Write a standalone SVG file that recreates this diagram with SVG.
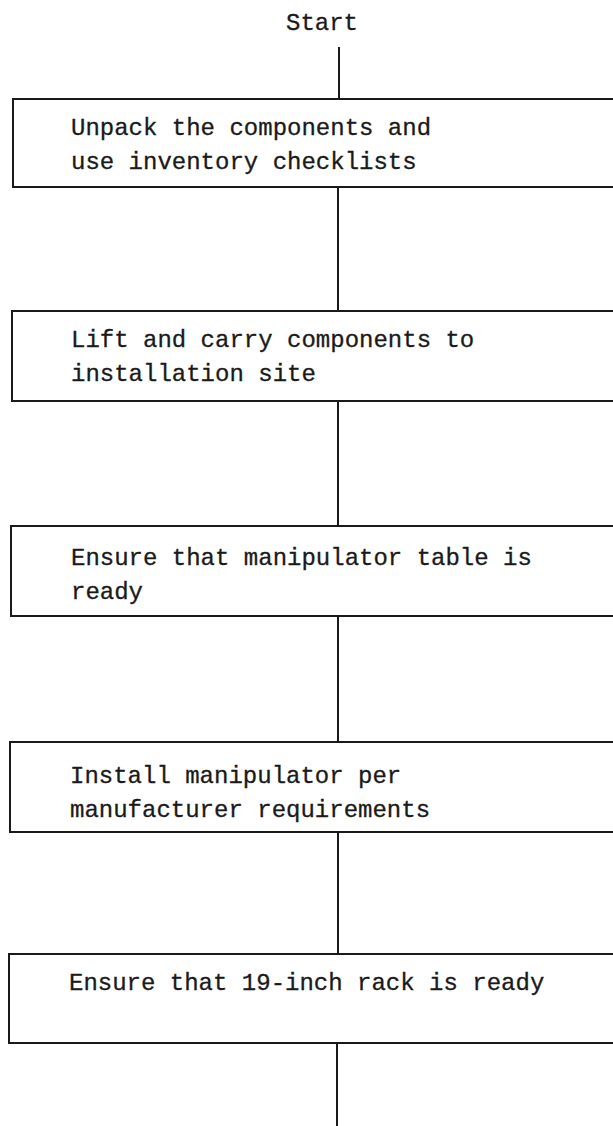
<svg xmlns="http://www.w3.org/2000/svg" width="613" height="1126" viewBox="0 0 613 1126">
  <style>
    .box { fill: #ffffff; stroke: #1a1a1a; stroke-width: 2; }
    .link { stroke: #1a1a1a; stroke-width: 2; fill: none; }
    .label { font-family: "Liberation Mono", "DejaVu Sans Mono", monospace; font-size: 24px; fill: #1a1a1a; stroke: #1a1a1a; stroke-width: 0.3; }
  </style>
  <rect x="0" y="0" width="613" height="1126" fill="#ffffff"/>

  <!-- connectors: one vertical trunk broken by the step boxes -->
  <g id="connectors">
    <line class="link" x1="339" y1="47" x2="339" y2="99"/>
    <line class="link" x1="338" y1="187" x2="338" y2="311"/>
    <line class="link" x1="338" y1="401" x2="338" y2="526"/>
    <line class="link" x1="338" y1="616" x2="338" y2="742"/>
    <line class="link" x1="338" y1="832" x2="338" y2="954"/>
    <line class="link" x1="337" y1="1043" x2="337" y2="1126"/>
  </g>

  <g id="start">
    <text class="label" x="286" y="30">Start</text>
  </g>

  <g id="step1">
    <rect class="box" x="13" y="99" width="620" height="88"/>
    <text class="label" x="71" y="135">Unpack the components and</text>
    <text class="label" x="71" y="169">use inventory checklists</text>
  </g>

  <g id="step2">
    <rect class="box" x="12" y="311" width="620" height="90"/>
    <text class="label" x="71" y="347">Lift and carry components to</text>
    <text class="label" x="71" y="381">installation site</text>
  </g>

  <g id="step3">
    <rect class="box" x="11" y="526" width="620" height="90"/>
    <text class="label" x="71" y="565">Ensure that manipulator table is</text>
    <text class="label" x="71" y="599">ready</text>
  </g>

  <g id="step4">
    <rect class="box" x="10" y="742" width="620" height="90"/>
    <text class="label" x="70" y="783">Install manipulator per</text>
    <text class="label" x="70" y="817">manufacturer requirements</text>
  </g>

  <g id="step5">
    <rect class="box" x="9" y="954" width="620" height="89"/>
    <text class="label" x="69" y="990">Ensure that 19-inch rack is ready</text>
  </g>
</svg>
